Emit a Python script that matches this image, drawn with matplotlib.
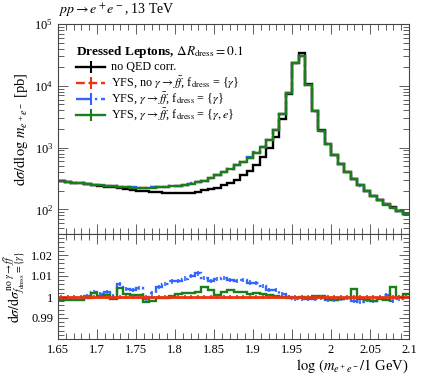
import numpy as np
import matplotlib
matplotlib.use('Agg')
import matplotlib.pyplot as plt
from matplotlib.ticker import FixedLocator, MultipleLocator, LogLocator, NullFormatter

plt.rcParams['font.family'] = ['Liberation Serif', 'DejaVu Serif']
plt.rcParams['mathtext.fontset'] = 'stix'

# ---------------- data ----------------
x_lo, x_hi, n_bins = 1.65, 2.1, 54

xsec_noqed = [287, 279, 271, 263, 255, 248, 241, 234, 227, 220, 214, 208, 202, 197,
              192, 188, 185, 183, 182, 183, 186, 192, 203, 211, 224, 244, 270, 304,
              360, 420, 520, 700, 980, 1500, 2940, 7360, 23600, 34000, 10500, 3945,
              1910, 1143, 762, 548, 408, 312, 248, 199, 167, 143, 122, 108, 95, 84]

xsec_yfs_full = [287, 279, 271, 264, 257, 251, 245, 240, 235, 231, 228, 226, 225, 225,
                 226, 228, 231, 235, 240, 250, 262, 276, 290, 325, 362, 405, 455, 515,
                 590, 690, 830, 1020, 1330, 1900, 3500, 7600, 23300, 30800, 10300, 3890,
                 1880, 1125, 750, 540, 402, 307, 244, 196, 165, 141, 120, 106, 94, 83]

ratio_red = [1.0] * n_bins

ratio_blue = [0.9992, 0.9992, 0.9993, 0.9995, 1.0005, 1.0023, 1.0015, 1.0023, 1.0005, 1.0060,
              1.0038, 1.0035, 1.0041, 0.9992, 1.0020, 1.0046, 1.0062, 1.0074, 1.0077, 1.0088,
              1.0100, 1.0112, 1.0092, 1.0077, 1.0085, 1.0089, 1.0082, 1.0077, 1.0080, 1.0069,
              1.0066, 1.0054, 1.0035, 1.0035, 1.0012, 1.0000, 0.9992, 0.9992, 0.9992, 0.9992,
              0.9995, 0.9988, 0.9985, 0.9992, 0.9997, 0.9982, 0.9977, 0.9985, 0.9980, 0.9995,
              1.0008, 0.9980, 0.9992, 1.0000]

ratio_green = [0.9985, 0.9985, 0.9985, 0.9985, 0.9995, 1.0020, 1.0005, 1.0008, 0.9992, 1.0042,
               1.0015, 1.0011, 1.0011, 0.9974, 0.9980, 0.9995, 0.9997, 1.0005, 1.0015, 1.0020,
               1.0020, 1.0023, 1.0046, 1.0031, 1.0011, 1.0023, 1.0031, 1.0026, 1.0023, 1.0015,
               1.0020, 1.0015, 1.0008, 1.0005, 1.0000, 0.9997, 0.9997, 1.0000, 0.9997, 1.0005,
               1.0005, 0.9992, 0.9988, 0.9992, 0.9995, 1.0038, 0.9992, 0.9985, 0.9980, 0.9992,
               0.9985, 1.0046, 1.0000, 1.0015]

err_red = 0.0008
err_blue = 0.0010
err_green = 0.0004

c_black = '#000000'
c_red = '#ee3311'
c_blue = '#3366ff'
c_green = '#1a7f1a'

legend_title = r'Dressed Leptons, $\Delta R_\mathrm{dress} = 0.1$'
legend_labels = [
    'no QED corr.',
    r'YFS, no $\gamma \to f\bar{f}$, f$_\mathrm{dress}$ = {$\gamma$}',
    r'YFS, $\gamma \to f\bar{f}$, f$_\mathrm{dress}$ = {$\gamma$}',
    r'YFS, $\gamma \to f\bar{f}$, f$_\mathrm{dress}$ = {$\gamma, e$}',
]

# ---------------- derived ----------------
edges = np.linspace(x_lo, x_hi, n_bins + 1)
centers = 0.5 * (edges[1:] + edges[:-1])
xsec_green = np.array(xsec_yfs_full, float)
xsec_red = xsec_green / np.array(ratio_green)
xsec_blue = xsec_red * np.array(ratio_blue)

fig = plt.figure(figsize=(4.22, 3.75), dpi=100)
ax = fig.add_axes([58/422, 1-234/375, 351/422, 210/375])
axr = fig.add_axes([58/422, 1-339/375, 351/422, 105/375])

lw = 1.7
styles = [(c_black, '-'), (c_red, '--'), (c_blue, '-.'), (c_green, '-')]
# main panel
for vals, (col, ls) in zip([xsec_noqed, xsec_red, xsec_blue, xsec_green], styles):
    ax.stairs(vals, edges, color=col, lw=lw, ls=ls, baseline=None)

ax.set_yscale('log')
ax.set_xlim(x_lo, x_hi)
ax.set_ylim(40, 1e5)
ax.yaxis.set_major_locator(LogLocator(base=10, numticks=10))
ax.yaxis.set_minor_locator(LogLocator(base=10, subs=np.arange(2, 10), numticks=20))
ax.yaxis.set_minor_formatter(NullFormatter())
ax.xaxis.set_major_locator(MultipleLocator(0.05))
ax.xaxis.set_minor_locator(MultipleLocator(0.01))
ax.tick_params(labelbottom=False)
ax.set_ylabel(r'$\mathrm{d}\sigma/\mathrm{d}\log\,m_{e^+e^-}$ [pb]', fontsize=10.5, labelpad=3)
ax.text(0.0, 1.025, r'$pp \to e^+e^-$, 13 TeV', transform=ax.transAxes, fontsize=10,
        ha='left', va='bottom')

# ratio panel
axr.stairs(ratio_blue, edges, color=c_blue, lw=lw, ls='-.', baseline=None)
axr.errorbar(centers, ratio_blue, yerr=err_blue, fmt='none', ecolor=c_blue, elinewidth=1.2)
axr.stairs(ratio_green, edges, color=c_green, lw=lw, baseline=None)
axr.errorbar(centers, ratio_green, yerr=err_green, fmt='none', ecolor=c_green, elinewidth=1.2)
axr.stairs(ratio_red, edges, color=c_red, lw=2.0, baseline=None)
axr.errorbar(centers, ratio_red, yerr=err_red, fmt='none', ecolor=c_red, elinewidth=1.2)

axr.set_xlim(x_lo, x_hi)
axr.set_ylim(0.98, 1.03)
axr.yaxis.set_major_locator(FixedLocator([0.99, 1.0, 1.01, 1.02]))
axr.yaxis.set_minor_locator(MultipleLocator(0.002))
axr.set_yticklabels(['0.99', '1', '1.01', '1.02'])
axr.xaxis.set_minor_locator(MultipleLocator(0.01))
axr.set_xticks([1.65, 1.7, 1.75, 1.8, 1.85, 1.9, 1.95, 2.0, 2.05, 2.1])
axr.set_xticklabels(['1.65', '1.7', '1.75', '1.8', '1.85', '1.9', '1.95', '2', '2.05', '2.1'])
axr.set_xlabel(r'$\log\,(m_{e^+e^-}/1$ GeV)', fontsize=10.5, loc='right', labelpad=1)
axr.set_ylabel(r'$\mathrm{d}\sigma/\mathrm{d}\sigma^{\mathrm{no}\;\gamma\to f\bar{f}}_{f_\mathrm{dress}=\{\gamma\}}$',
               fontsize=10, labelpad=2)

for a in (ax, axr):
    a.tick_params(which='both', direction='in', top=True, right=True, labelsize=9,
                  color='#444444', width=0.6)
    a.tick_params(which='major', length=7)
    a.tick_params(which='minor', length=4)
    for s in a.spines.values():
        s.set_linewidth(0.8)
        s.set_color('#444444')

# legend (drawn manually in axes coordinates)
def ax_pt(px, py):
    return (px - 58) / 351, 1 - (py - 24) / 210

tx, ty = ax_pt(76, 52.5)
ax.text(tx, ty, legend_title, transform=ax.transAxes, fontsize=9.5, fontweight='bold',
        ha='left', va='center')
rows_y = [67, 82.5, 98.5, 114.5]
for (col, ls), lab, py in zip(styles, legend_labels, rows_y):
    x0, y0 = ax_pt(76, py)
    x1, _ = ax_pt(105, py)
    xm, _ = ax_pt(90.5, py)
    ax.plot([x0, x1], [y0, y0], color=col, lw=lw, ls=ls, transform=ax.transAxes)
    ax.plot([xm], [y0], color=col, marker='|', ms=8, mew=1.5, transform=ax.transAxes)
    xt, _ = ax_pt(111, py)
    ax.text(xt, y0, lab, transform=ax.transAxes, fontsize=8.7, ha='left', va='center')

fig.savefig('out.png', dpi=100)
